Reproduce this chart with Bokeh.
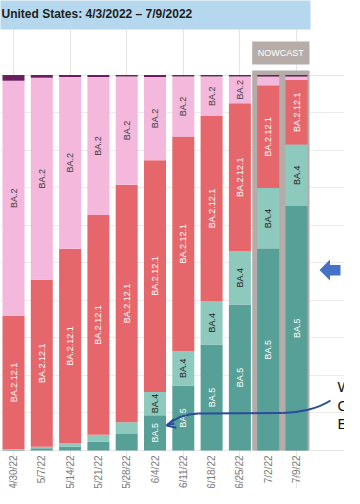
import math
from bokeh.plotting import figure
from bokeh.models import ColumnDataSource, Range1d, Grid, FixedTicker, Arrow, OpenHead
from bokeh.core.properties import value
from bokeh.embed import file_html
from bokeh.resources import INLINE

# ---------------- data ----------------
title = "United States: 4/3/2022 \u2013 7/9/2022"
weeks = ["4/30/22", "5/7/22", "5/14/22", "5/21/22", "5/28/22", "6/4/22",
         "6/11/22", "6/18/22", "6/25/22", "7/2/22", "7/9/22"]
nowcast_weeks = ["7/2/22", "7/9/22"]
lineages = ["BA.5", "BA.4", "BA.2.12.1", "BA.2", "Other"]
ba5 = [0.2, 0.6, 1.0, 2.3, 4.4, 9.4, 17.3, 28.2, 38.9, 53.7, 65.1]
ba4 = [0.1, 0.4, 1.0, 1.9, 3.1, 6.2, 9.2, 11.6, 14.2, 16.2, 16.4]
ba2121 = [35.6, 44.5, 51.7, 58.5, 63.3, 61.7, 57.1, 49.3, 39.4, 27.3, 17.2]
ba2 = [62.6, 53.8, 45.8, 36.8, 28.8, 22.2, 16.0, 10.5, 7.1, 2.4, 0.9]
other = [1.5, 0.7, 0.5, 0.5, 0.4, 0.5, 0.4, 0.4, 0.4, 0.4, 0.4]
annot_lines = ["Wh", "Ob", "Ex"]

# ---------------- styles ----------------
colors = ["#57a097", "#8dc9bd", "#e6676b", "#f4b8dc", "#6b1f5f"]
label_colors = ["white", "#1e1e1e", "white", "#3a3a3a", None]
FONT = value("Liberation Sans")

# pixel geometry (page coordinates of the reference) -> data helpers
PX_BAR = 28.3          # px per week
PX_PCT = 3.755         # px per percent
X0_PAGE = 21.0         # page x of first bar centre
Y0_PAGE = 458.0        # page y of 0 %
def X(xp):
    return (xp - X0_PAGE) / PX_BAR
def Y(yp):
    return (Y0_PAGE - yp) / PX_PCT

W, H = 344, 488
x_start = X(8)
x_end = X(8 + W)
y_start = Y(8 + H)
y_end = Y(8)

p = figure(width=W, height=H, x_range=Range1d(x_start, x_end),
           y_range=Range1d(y_start, y_end), toolbar_location=None,
           output_backend="svg", min_border=0, x_axis_location=None,
           y_axis_location=None, outline_line_color=None,
           background_fill_color="white", border_fill_color="white")

grid = Grid(dimension=1, ticker=FixedTicker(ticks=[10, 20, 30, 40, 50, 60, 70, 80, 90]),
            grid_line_color="#ebebeb", grid_line_width=1)
p.add_layout(grid)

xs = list(range(len(weeks)))
series = [ba5, ba4, ba2121, ba2, other]
src = ColumnDataSource(dict(x=xs, **{n: s for n, s in zip(lineages, series)}))

# nowcast background
i_first = weeks.index(nowcast_weeks[0])
i_last = weeks.index(nowcast_weeks[-1])
p.quad(left=[i_first - 16 / PX_BAR], right=[i_last + 13 / PX_BAR],
       bottom=[0], top=[Y(78)], fill_color="#b3aca9", line_color=None)
# nowcast tag
p.quad(left=[i_first - 16 / PX_BAR], right=[i_last + 13 / PX_BAR],
       bottom=[Y(72)], top=[Y(49)], fill_color="#b6ada9", line_color=None)
p.text(x=[(i_first - 16 / PX_BAR + i_last + 13 / PX_BAR) / 2], y=[Y(60.5)], text=["NOWCAST"],
       text_font=FONT, text_font_size="9px", text_color="white",
       text_align="center", text_baseline="middle")

# stacked bars
bw = 22 / PX_BAR
p.vbar_stack(lineages, x="x", width=bw, source=src, fill_color=colors, line_color=None)

# segment labels
lx, ly, lt, lc = [], [], [], []
for i in xs:
    base = 0.0
    for k, s in enumerate(series):
        v = s[i]
        if label_colors[k] is not None and v >= 5.0:
            lx.append(i)
            ly.append(base + v / 2)
            lt.append(lineages[k])
            lc.append(label_colors[k])
        base += v
p.text(x=lx, y=ly, text=lt, text_color=lc, angle=math.pi / 2,
       text_font=FONT, text_font_size="9px", text_align="center", text_baseline="middle")

# week labels
p.text(x=xs, y=[Y(463)] * len(xs), text=weeks, angle=math.pi / 2,
       text_font=FONT, text_font_size="10px", text_color="#7a7a7a",
       text_align="right", text_baseline="middle")

# title banner
p.quad(left=[x_start - 1], right=[X(318)], bottom=[Y(37)], top=[y_end + 1],
       fill_color="#b5d8ee", line_color=None)
p.text(x=[X(9)], y=[Y(21.5)], text=[title], text_font=FONT, text_font_style="bold",
       text_font_size="12px", text_color="#1e1e1e", text_align="left", text_baseline="middle")

# blue block arrow (right)
ax = [327, 337.5, 337.5, 348, 348, 337.5, 337.5]
ay = [277.5, 267, 272.5, 272.5, 283, 283, 288]
p.patch([X(v) for v in ax], [Y(v) for v in ay], fill_color="#4472c4", line_color=None)

# curved pointer arrow
cc = "#2b4c9b"
p.bezier(x0=[X(338)], y0=[Y(408)], x1=[X(290)], y1=[Y(420.5)],
         cx0=[X(326)], cy0=[Y(416)], cx1=[X(306)], cy1=[Y(420.5)],
         line_color=cc, line_width=2)
p.line([X(290), X(206)], [Y(420.5), Y(421)], line_color=cc, line_width=2)
p.bezier(x0=[X(206)], y0=[Y(421)], x1=[X(175)], y1=[Y(432.5)],
         cx0=[X(192)], cy0=[Y(421.5)], cx1=[X(181)], cy1=[Y(427)],
         line_color=cc, line_width=2)
p.add_layout(Arrow(end=OpenHead(size=9, line_color=cc, line_width=2),
                   x_start=X(182), y_start=Y(431), x_end=X(174), y_end=Y(433),
                   line_color=cc, line_width=2))

# cut-off annotation text at right edge
p.text(x=[X(345)] * 3, y=[Y(394), Y(412.5), Y(431)], text=annot_lines,
       text_font=FONT, text_font_size="15px", text_color="#111111",
       text_align="left", text_baseline="middle")

open("out.html", "w").write(file_html(p, INLINE))
